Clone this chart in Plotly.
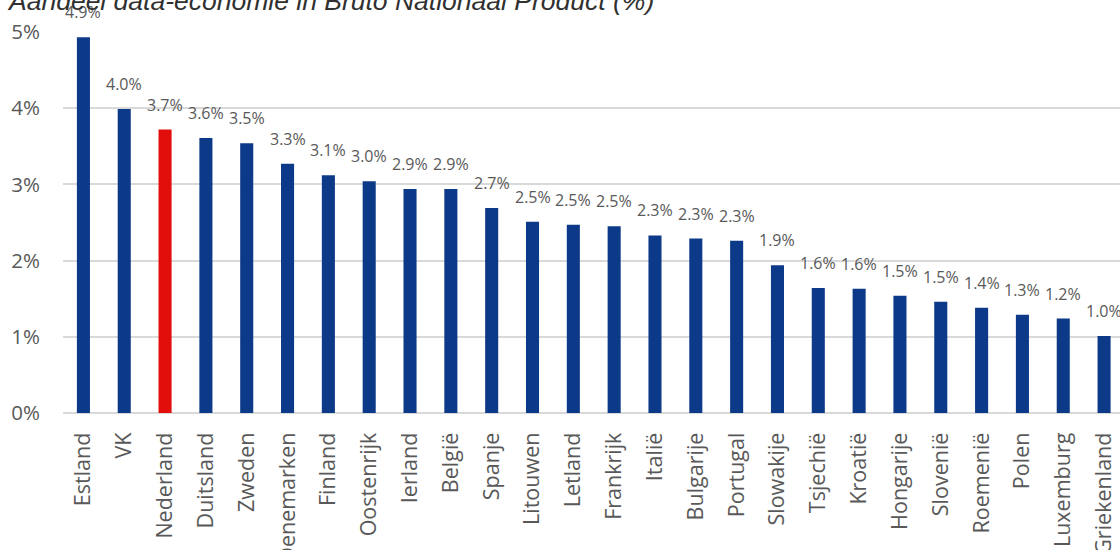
import plotly.graph_objects as go

countries = ["Estland", "VK", "Nederland", "Duitsland", "Zweden", "Denemarken", "Finland",
             "Oostenrijk", "Ierland", "België", "Spanje", "Litouwen", "Letland", "Frankrijk",
             "Italië", "Bulgarije", "Portugal", "Slowakije", "Tsjechië", "Kroatië", "Hongarije",
             "Slovenië", "Roemenië", "Polen", "Luxemburg", "Griekenland"]
values = [4.93, 3.99, 3.72, 3.61, 3.54, 3.27, 3.12, 3.04, 2.94, 2.94, 2.69, 2.51, 2.47, 2.45,
          2.33, 2.29, 2.26, 1.94, 1.64, 1.63, 1.54, 1.46, 1.38, 1.29, 1.24, 1.01]
highlight = "Nederland"
y_ticks = [0, 1, 2, 3, 4, 5]
y_tick_labels = ["0%", "1%", "2%", "3%", "4%", "5%"]
title_text = "Aandeel data-economie in Bruto Nationaal Product (%)"

BLUE = "#0C3A88"
RED = "#E20E0B"
colors = [RED if c == highlight else BLUE for c in countries]

fig = go.Figure()
fig.add_trace(go.Bar(x=countries, y=values, marker=dict(color=colors, line=dict(width=0)),
                     width=0.32, hoverinfo="x+y"))

for c, v in zip(countries, values):
    fig.add_annotation(x=c, y=v, text=f"{v:.1f}%", showarrow=False, yanchor="bottom",
                       yshift=12, font=dict(family="Open Sans", size=16, color="#595959"))

fig.add_annotation(x=0, y=1.0, xref="paper", yref="paper", xanchor="left", xshift=-58,
                   yanchor="bottom", yshift=14, text="<i>" + title_text + "</i>", showarrow=False,
                   font=dict(family="Liberation Sans", size=26.5, color="#303030"))

fig.update_layout(
    width=1120, height=550,
    margin=dict(l=63, r=0, t=32, b=137),
    paper_bgcolor="white", plot_bgcolor="white",
    showlegend=False,
    xaxis=dict(range=[-0.5, 25.39], tickangle=-90, ticks="outside", ticklen=10,
               tickcolor="rgba(0,0,0,0)", showgrid=False, automargin=False,
               tickfont=dict(family="Open Sans", size=21.5, color="#595959"),
               showline=False),
    yaxis=dict(range=[0, 5], tickvals=y_ticks, ticktext=y_tick_labels, automargin=False,
               showgrid=True, gridcolor="#D9D9D9", gridwidth=1.5,
               zeroline=True, zerolinecolor="#D9D9D9", zerolinewidth=1.5,
               ticks="outside", ticklen=18, tickcolor="rgba(0,0,0,0)",
               tickfont=dict(family="Open Sans", size=20.5, color="#595959")),
)
fig.write_html("out.html", config={"displayModeBar": False},
               post_script="document.body.style.margin='0';")
